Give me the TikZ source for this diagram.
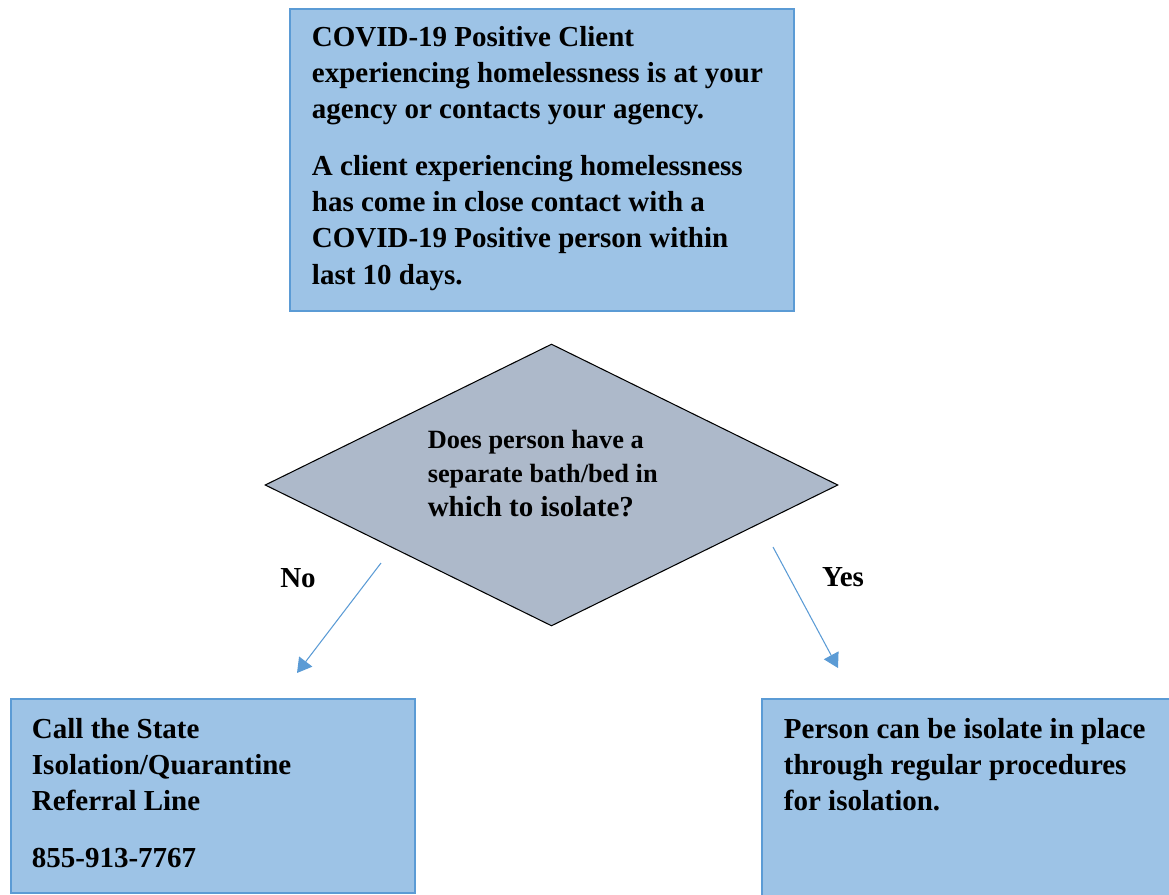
\documentclass[tikz,border=0pt]{standalone}
\usepackage{fontspec}
\setmainfont{Liberation Serif}
\usetikzlibrary{shapes.geometric,arrows.meta}
\definecolor{boxfill}{HTML}{9DC3E6}
\definecolor{boxline}{HTML}{5B9BD5}
\definecolor{decfill}{HTML}{ADB9CA}
\definecolor{flowblue}{HTML}{5B9BD5}

\begin{document}
\begin{tikzpicture}[x=0.02cm,y=-0.02cm,
  box/.style={draw=boxline, line width=1.1pt, fill=boxfill, anchor=north west,
    inner xsep=0.44cm, font=\bfseries\fontsize{16.5}{20.6}\selectfont},
  decision/.style={diamond, shape aspect=2, draw=black, line width=0.6pt, fill=decfill,
    minimum width=11.46cm, minimum height=5.64cm, inner sep=0pt,
    font=\bfseries\fontsize{15}{19.3}\selectfont},
  answer/.style={inner sep=0pt, font=\bfseries\fontsize{16.5}{20}\selectfont},
  flow/.style={draw=flowblue, line width=0.6pt, -{Triangle[length=8.2pt,width=9.4pt]}}]

\useasboundingbox (0,0) rectangle (1169,895);
\clip (0,0) rectangle (1169,895);

\node [box, inner ysep=0.34cm] (client) at (289,8) {\parbox[t][5.36cm][t]{9.2cm}{COVID-19 Positive Client\\
  experiencing homelessness is at your\\
  agency or contacts your agency.\\[11.9pt]
  A client experiencing homelessness\\
  has come in close contact with a\\
  COVID-19 Positive person within\\
  last 10 days.}};

\node [decision] (bathBed) at (551.5,485) {\parbox[c][2.2cm][t]{4.95cm}{Does person have a\\
  separate bath/bed in\\
  {\fontsize{16.5}{19.3}\selectfont which to isolate?}}};

\node [answer] (noLabel) at (298,578) {No};
\node [answer] (yesLabel) at (843,577) {Yes};

\path (381,563) coordinate(noFrom);
\path (297,673) coordinate(noTo);
\path (773,547) coordinate(yesFrom);
\path (838,668) coordinate(yesTo);

\draw [flow] (noFrom) -- (noTo);
\draw [flow] (yesFrom) -- (yesTo);

\node [box, inner xsep=0.42cm, inner ysep=0.38cm] (stateLine) at (10,698) {\parbox[t][3.12cm][t]{7.24cm}{Call the State\\
  Isolation/Quarantine\\
  Referral Line\\[11.9pt]
  855-913-7767}};

\node [box, inner ysep=0.38cm] (inPlace) at (761,698) {\parbox[t][3.84cm][t]{7.72cm}{Person can be isolate in place\\
  through regular procedures\\
  for isolation.}};

\end{tikzpicture}
\end{document}
